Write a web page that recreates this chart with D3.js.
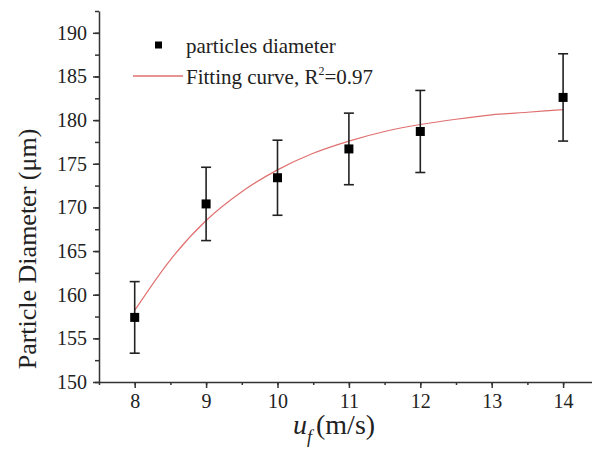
<!DOCTYPE html>
<meta charset="utf-8">
<style>
body { margin: 0; background: #fff; }
.axis path, .axis line { stroke: #333; stroke-width: 1.5; }
</style>
<body>
<script src="https://cdn.jsdelivr.net/npm/d3@7"></script>
<script>

var speeds = [8, 9, 10, 11, 12, 14],
    diameters = [157.4, 170.4, 173.4, 176.7, 178.7, 182.6],
    errors = [4.1, 4.2, 4.3, 4.1, 4.7, 5.0];

// fitting curve
var fitX = [8, 8.5, 9, 9.5, 10, 10.5, 11, 11.5, 12, 12.5, 13, 13.5, 14],
    fitY = [158.2, 164.0, 168.5, 171.8, 174.3, 176.2, 177.6, 178.7, 179.5, 180.1, 180.6, 180.9, 181.2];

var xTicks = [8, 9, 10, 11, 12, 13, 14],
    yTicks = [150, 155, 160, 165, 170, 175, 180, 185, 190];

var serif = "'Liberation Serif', 'Times New Roman', serif";
var width = 592, height = 468;
var margin = {left: 99, top: 11, bottom: 86};

var x = d3.scaleLinear().domain([7.5, 14.5]).range([margin.left, margin.left + 7 * 71.4]);
var y = d3.scaleLinear().domain([150, 192.5]).range([height - margin.bottom, margin.top]);

var svg = d3.select("body").append("svg")
    .attr("width", width)
    .attr("height", height)
    .style("font-family", serif);

// minor ticks first, then the major axes on top
var xMinor = svg.append("g")
    .attr("class", "axis")
    .attr("transform", "translate(0," + y(150) + ")")
    .call(d3.axisBottom(x).tickValues(d3.range(7.5, 14.6, 0.5)).tickSize(3).tickFormat(""));
xMinor.select(".domain").remove();
xMinor.selectAll("text").remove();

var yMinor = svg.append("g")
    .attr("class", "axis")
    .attr("transform", "translate(" + x(7.5) + ",0)")
    .call(d3.axisLeft(y).tickValues(d3.range(150, 193, 2.5)).tickSize(4).tickFormat(""));
yMinor.select(".domain").remove();
yMinor.selectAll("text").remove();

var xAxis = svg.append("g")
    .attr("class", "axis")
    .attr("transform", "translate(0," + y(150) + ")")
    .call(d3.axisBottom(x).tickValues(xTicks).tickFormat(d3.format("d"))
        .tickSize(6).tickSizeOuter(0).tickPadding(6));
xAxis.attr("font-family", serif).attr("font-size", 20);
xAxis.selectAll("text").attr("fill", "#222");

var yAxis = svg.append("g")
    .attr("class", "axis")
    .attr("transform", "translate(" + x(7.5) + ",0)")
    .call(d3.axisLeft(y).tickValues(yTicks).tickFormat(d3.format("d"))
        .tickSize(6).tickSizeOuter(0).tickPadding(6));
yAxis.attr("font-family", serif).attr("font-size", 20);
yAxis.selectAll("text").attr("fill", "#222");

// fitted curve
var pts = fitX.map(function(d, i) { return [d, fitY[i]]; });
svg.append("path")
    .datum(pts)
    .attr("fill", "none")
    .attr("stroke", "#e07070")
    .attr("stroke-width", 1.2)
    .attr("d", d3.line()
        .x(function(d) { return x(d[0]); })
        .y(function(d) { return y(d[1]); })
        .curve(d3.curveMonotoneX));

// error bars
var bars = svg.append("g")
    .attr("stroke", "#222")
    .attr("stroke-width", 1.6)
  .selectAll("g")
    .data(speeds)
  .enter().append("g");

bars.append("line")
    .attr("x1", function(d) { return x(d); })
    .attr("x2", function(d) { return x(d); })
    .attr("y1", function(d, i) { return y(diameters[i] - errors[i]); })
    .attr("y2", function(d, i) { return y(diameters[i] + errors[i]); });

[-1, 1].forEach(function(s) {
  bars.append("line")
      .attr("x1", function(d) { return x(d) - 5; })
      .attr("x2", function(d) { return x(d) + 5; })
      .attr("y1", function(d, i) { return y(diameters[i] + s * errors[i]); })
      .attr("y2", function(d, i) { return y(diameters[i] + s * errors[i]); });
});

svg.append("g")
  .selectAll("rect")
    .data(speeds)
  .enter().append("rect")
    .attr("x", function(d) { return x(d) - 4.5; })
    .attr("y", function(d, i) { return y(diameters[i]) - 4.5; })
    .attr("width", 9)
    .attr("height", 9)
    .attr("fill", "#000");

// legend
svg.append("rect")
    .attr("x", 155).attr("y", 41.5)
    .attr("width", 7).attr("height", 7)
    .attr("fill", "#000");
svg.append("text")
    .attr("x", 186).attr("y", 53)
    .attr("fill", "#222")
    .style("font-size", "21px")
    .text("particles diameter");

svg.append("line")
    .attr("x1", 133).attr("x2", 183)
    .attr("y1", 76).attr("y2", 76)
    .attr("stroke", "#e07070")
    .attr("stroke-width", 1.4);
var lt = svg.append("text")
    .attr("x", 186).attr("y", 84)
    .attr("fill", "#222")
    .style("font-size", "21px");
lt.append("tspan").text("Fitting curve, R");
lt.append("tspan").attr("dy", -9).style("font-size", "12px").text("2");
lt.append("tspan").attr("dy", 9).text("=0.97");

// axis titles
svg.append("text")
    .attr("transform", "translate(36," + 249 + ") rotate(-90)")
    .attr("text-anchor", "middle")
    .attr("fill", "#222")
    .style("font-size", "26px")
    .text("Particle Diameter (\u03bcm)");

var xt = svg.append("text")
    .attr("x", 293).attr("y", 434)
    .attr("fill", "#222")
    .style("font-size", "28px");
xt.append("tspan").style("font-style", "italic").text("u");
xt.append("tspan").attr("dy", 9).style("font-style", "italic").style("font-size", "18px").text("f");
xt.append("tspan").attr("dy", -9).attr("dx", 4).text("(m/s)");

</script>
